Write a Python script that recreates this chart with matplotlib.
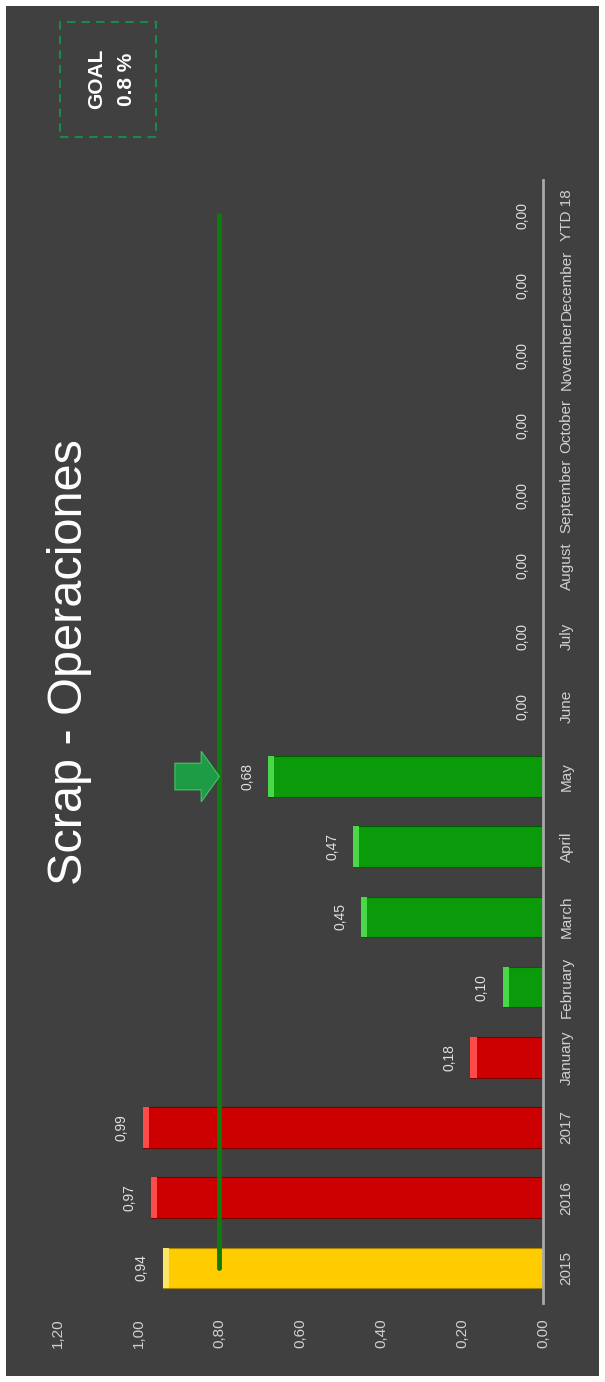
import matplotlib
matplotlib.use('Agg')
import matplotlib.pyplot as plt
from matplotlib.patches import Rectangle, FancyArrow

plt.rcParams['font.family'] = ['Liberation Sans Narrow', 'Liberation Sans', 'DejaVu Sans']

# datos del grafico
categories = ['2015', '2016', '2017', 'January', 'February', 'March', 'April', 'May',
              'June', 'July', 'August', 'September', 'October', 'November', 'December', 'YTD 18']
values = [0.94, 0.97, 0.99, 0.18, 0.10, 0.45, 0.47, 0.68, 0, 0, 0, 0, 0, 0, 0, 0]
bar_colors = ['#ffcc00', '#cc0000', '#cc0000', '#cc0000', '#0a9a0a', '#0a9a0a', '#0a9a0a', '#0a9a0a',
              '#0a9a0a', '#0a9a0a', '#0a9a0a', '#0a9a0a', '#0a9a0a', '#0a9a0a', '#0a9a0a', '#0a9a0a']
goal = 0.80
value_ticks = [0.0, 0.2, 0.4, 0.6, 0.8, 1.0, 1.2]

edge_of = {'#ffcc00': '#a88400', '#cc0000': '#7a0000', '#0a9a0a': '#055a05'}
light_of = {'#ffcc00': '#ffe566', '#cc0000': '#ff4a4a', '#0a9a0a': '#4ad84a'}

W, H = 605, 1382
fig = plt.figure(figsize=(W / 100, H / 100), dpi=100, facecolor='white')
fig.patches.append(Rectangle((6 / W, 6 / H), 593 / W, 1370 / H, transform=fig.transFigure,
                             facecolor='#404040', edgecolor='none', zorder=-5))

ax = fig.add_axes([0.0952, 0.0572, 0.8023, 0.8126])
ax.set_facecolor('none')

y = list(range(len(categories)))
ax.barh(y, values, height=0.58, color=bar_colors,
        edgecolor=[edge_of[c] for c in bar_colors], linewidth=0.8, zorder=2)

# brillo en el extremo de cada barra
for i, v in enumerate(values):
    if v > 0:
        ax.barh(i, 0.016, left=v - 0.016, height=0.58, color=light_of[bar_colors[i]],
                edgecolor='none', zorder=3)
    ax.annotate(('%.2f' % v).replace('.', ','), xy=(v, i), xytext=(-15, 0),
                textcoords='offset points', rotation=90, ha='center', va='center',
                fontsize=10, color='#e0e0e0')

# linea de meta
ax.plot([goal, goal], [0, len(categories) - 1], color='#0c7d0c', lw=3.5,
        solid_capstyle='round', zorder=4)

# flecha en el ultimo mes
ax.add_patch(FancyArrow(goal + 0.11, 7, -0.11, 0, width=0.38, head_width=0.72,
                        head_length=0.045, length_includes_head=True,
                        facecolor='#1e9b45', edgecolor='#43c765', lw=0.8, zorder=5))

ax.set_xlim(1.2, 0)
ax.set_ylim(-0.5, len(categories) - 0.5)

for s in ['top', 'bottom', 'left']:
    ax.spines[s].set_visible(False)
ax.spines['right'].set_color('#a8a8a8')
ax.spines['right'].set_linewidth(2)

ax.yaxis.tick_right()
ax.set_yticks(y)
ax.set_yticklabels(categories, rotation=90, va='center', fontsize=11, color='#d0d0d0')
ax.set_xticks(value_ticks)
ax.set_xticklabels([('%.2f' % t).replace('.', ',') for t in value_ticks],
                   rotation=90, fontsize=11, color='#d0d0d0')
ax.tick_params(axis='y', length=0, pad=12)
ax.tick_params(axis='x', length=0, pad=11)

fig.text(70 / W, 1 - 662 / H, 'Scrap - Operaciones', rotation=90, fontsize=35,
         color='white', ha='center', va='center', family=['Liberation Sans', 'DejaVu Sans'])

# recuadro de meta
fig.patches.append(Rectangle((60 / W, 1 - 137 / H), 96 / W, 115 / H, transform=fig.transFigure,
                             facecolor='none', edgecolor='#1a8a4a', lw=1.5,
                             linestyle=(0, (4, 3)), zorder=1))
fig.text(97 / W, 1 - 79 / H, 'GOAL', rotation=90, fontsize=15, fontweight='bold',
         color='white', ha='center', va='center', family=['Liberation Sans', 'DejaVu Sans'])
fig.text(127 / W, 1 - 79 / H, '0.8 %', rotation=90, fontsize=15, fontweight='bold',
         color='white', ha='center', va='center', family=['Liberation Sans', 'DejaVu Sans'])

fig.savefig('out.png', dpi=100, facecolor=fig.get_facecolor())
